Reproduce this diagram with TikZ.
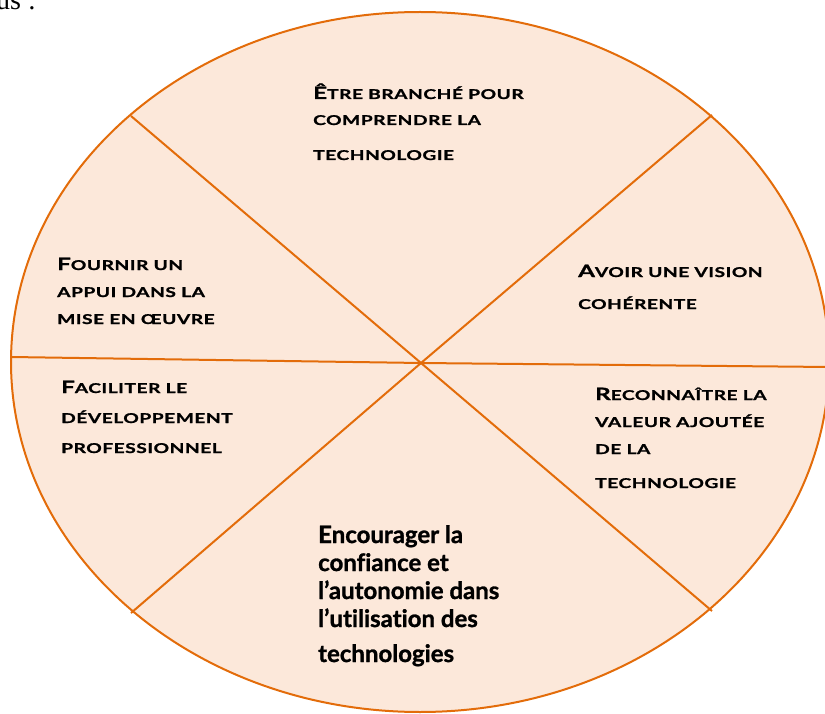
\documentclass[tikz,border=0pt]{standalone}
\usepackage{fontspec}
\setmainfont{Lato}[Ligatures=NoCommon]
\newfontfamily\serifpart{Liberation Serif}
\newfontfamily\capspart{Lato}[Ligatures=NoCommon, FakeStretch=1.42, LetterSpace=4, FakeBold=1.2]
\newfontfamily\heavypart{Lato}[Ligatures=NoCommon, FakeBold=1.2]
\usetikzlibrary{positioning}

\definecolor{peach}{HTML}{FCE8DA}
\definecolor{rust}{HTML}{E36C0A}

\newcommand\capfirst[2]{{\fontsize{17}{27}\selectfont #1}#2}

\tikzset{
  sector/.style={align=left, anchor=base west, inner sep=0pt,
    font=\capspart\fontsize{13.5}{27}\selectfont\bfseries},
  plain/.style={align=left, anchor=base west, inner sep=0pt,
    font=\heavypart\fontsize{24}{28}\selectfont\bfseries},
  divider/.style={draw=rust, line width=2pt}
}

\begin{document}
\begin{tikzpicture}[x=1pt, y=-1pt]
  \useasboundingbox (0,0) rectangle (825,714);
  \node (head) [anchor=base west, inner sep=0pt, font=\serifpart\fontsize{28}{30}\selectfont] at (-4,10) {us :};

  \draw[divider, fill=peach] (420,362) ellipse [x radius=409, y radius=350];

  \coordinate (c) at (421,363);
  \coordinate (ul) at (131,116);
  \coordinate (lr) at (712,611);
  \coordinate (ur) at (712,115);
  \coordinate (ll) at (131,613);
  \coordinate (l) at (11,357);
  \coordinate (r) at (829,367);

  \draw[divider] (ul) -- (c) -- (lr);
  \draw[divider] (ur) -- (c) -- (ll);
  \draw[divider] (l) -- (c) -- (r);

  \node (top) [sector] at (313,160)
    {\capfirst{Ê}{TRE BRANCHÉ POUR}\\[-1pt] COMPRENDRE LA\\[8pt] TECHNOLOGIE};
  \node (vision) [sector] at (578,309)
    {\capfirst{A}{VOIR UNE VISION}\\[5pt] COHÉRENTE};
  \node (valeur) [sector] at (595,488)
    {\capfirst{R}{ECONNAÎTRE LA}\\ VALEUR AJOUTÉE\\ DE LA\\[7pt] TECHNOLOGIE};
  \node (appui) [sector] at (57,324)
    {\capfirst{F}{OURNIR UN}\\ APPUI DANS LA\\ MISE EN ŒUVRE};
  \node (dev) [sector] at (61,453)
    {\capfirst{F}{ACILITER LE}\\[3pt] DÉVELOPPEMENT\\[3pt] PROFESSIONNEL};
  \node (confiance) [plain] at (318,662)
    {Encourager la\\ confiance et\\ l’autonomie dans\\ l’utilisation des\\[7pt] technologies};
\end{tikzpicture}
\end{document}
